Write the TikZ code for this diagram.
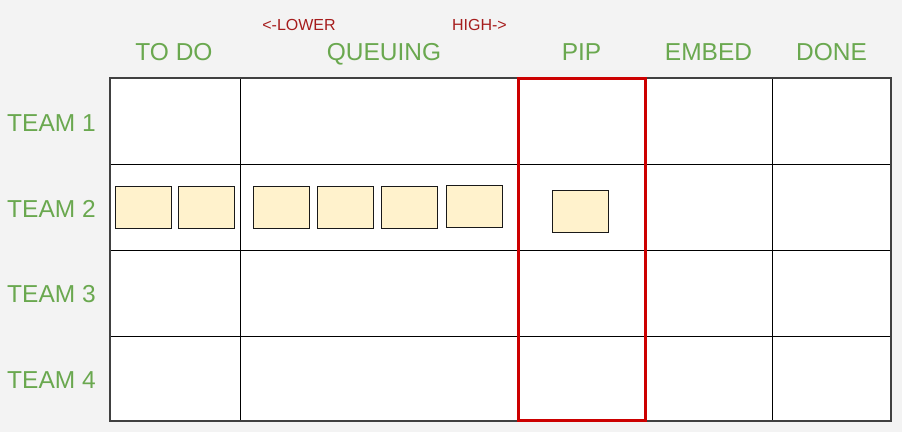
\documentclass[tikz,border=0pt]{standalone}
\usepackage{fontspec}
\setmainfont{Liberation Sans}
\definecolor{bg}{HTML}{F3F3F3}
\definecolor{hdr}{HTML}{6AA84F}
\definecolor{prio}{HTML}{A61C1C}
\definecolor{cardfill}{HTML}{FFF2CC}
\definecolor{wip}{HTML}{CC0000}
\begin{document}
\begin{tikzpicture}[x=1pt,y=-1pt,
  hdrtxt/.style={text=hdr,font=\fontsize{24.5}{29}\selectfont,inner sep=0pt,anchor=base},
  priotxt/.style={text=prio,font=\fontsize{16}{19}\selectfont,inner sep=0pt,anchor=base},
  card/.style={draw=black!90,fill=cardfill,line width=1.2pt,minimum width=56pt,minimum height=42pt,inner sep=0pt,anchor=north west},
  gridline/.style={draw=black,line width=1pt},
  wipbox/.style={draw=wip,line width=3pt}]
\fill[bg] (0,0) rectangle (902,432);
\useasboundingbox (0,0) rectangle (902,432);
% board
\fill[white] (110,78) rectangle (891,421);
\foreach \yy in {164,250,336}{\draw[gridline] (110,\yy) -- (891,\yy);}
\foreach \xx in {240,645,772}{\draw[gridline] (\xx,78) -- (\xx,421);}
\draw[draw=black!75,line width=1.5pt] (110,78) rectangle (891,421);
% cards
\node[card] (c1) at (114.5,185.5) {};
\node[card] (c2) at (177.5,185.5) {};
\node[card] (c3) at (253,185.5) {};
\node[card] (c4) at (317,185.5) {};
\node[card] (c5) at (381,185.5) {};
\node[card] (c6) at (445.5,185) {};
\node[card] (c7) at (551.5,190) {};
% WIP box
\draw[wipbox] (518.5,78) rectangle (645,420);
% headers
\node[hdrtxt] (todo) at (174,60) {TO DO};
\node[hdrtxt] (queue) at (384,60) {QUEUING};
\node[hdrtxt] (pip) at (581.5,60) {PIP};
\node[hdrtxt] (embed) at (708.5,60) {EMBED};
\node[hdrtxt] (done) at (831.5,60) {DONE};
\node[priotxt] (lower) at (299,30) {<-LOWER};
\node[priotxt] (high) at (479.5,30) {HIGH->};
% rows
\node[hdrtxt,anchor=base west] (t1) at (7,131) {TEAM 1};
\node[hdrtxt,anchor=base west] (t2) at (7,217) {TEAM 2};
\node[hdrtxt,anchor=base west] (t3) at (7,302) {TEAM 3};
\node[hdrtxt,anchor=base west] (t4) at (7,388) {TEAM 4};
\end{tikzpicture}
\end{document}
